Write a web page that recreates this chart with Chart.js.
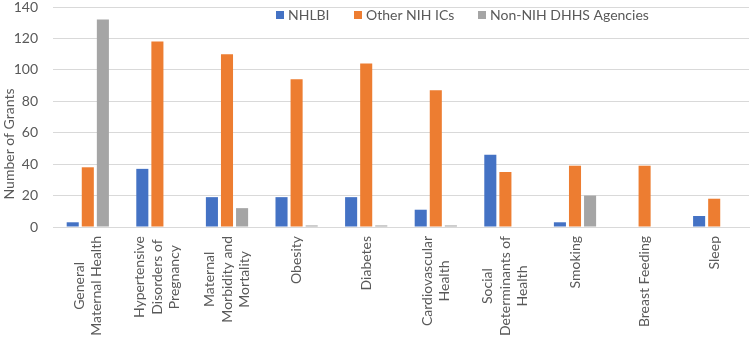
<!DOCTYPE html>
<html>
<head>
<meta charset="utf-8">
<script src="https://cdn.jsdelivr.net/npm/chart.js@4"></script>
<style>
  html, body { margin: 0; padding: 0; background: #fff; }
</style>
</head>
<body>
<canvas id="grantsChart" width="752" height="337"></canvas>
<script>
// === Data ===
const categories = [
  ['General', 'Maternal Health'],
  ['Hypertensive', 'Disorders of', 'Pregnancy'],
  ['Maternal', 'Morbidity and', 'Mortality'],
  ['Obesity'],
  ['Diabetes'],
  ['Cardiovascular', 'Health'],
  ['Social', 'Determinants of', 'Health'],
  ['Smoking'],
  ['Breast Feeding'],
  ['Sleep']
];
const nhlbi    = [3, 37, 19, 19, 19, 11, 46, 3, 0, 7];
const otherNih = [38, 118, 110, 94, 104, 87, 35, 39, 39, 18];
const nonNih   = [132, 0, 12, 1, 1, 1, 0, 20, 0, 0];
const seriesNames = ['NHLBI', 'Other NIH ICs', 'Non-NIH DHHS Agencies'];
const yMax = 140;
const yStep = 20;
const yTitle = 'Number of Grants';

const colors = ['#4472C4', '#ED7D31', '#A5A5A5'];
const textColor = '#595959';
const gridColor = '#D9D9D9';
const fontFamily = 'Lato, "Liberation Sans", sans-serif';

// === Excel-style text: wrapped category labels, axis title, legend ===
const excelText = {
  id: 'excelText',
  afterDraw(chart) {
    const { ctx, chartArea } = chart;
    const x = chart.scales.x;
    ctx.save();
    ctx.fillStyle = textColor;
    ctx.font = '14px ' + fontFamily;
    ctx.textAlign = 'center';
    ctx.textBaseline = 'middle';

    // category labels rotated, lines centred on each other
    categories.forEach((lines, i) => {
      const cx = x.getPixelForTick(i);
      const longest = Math.max(...lines.map(l => ctx.measureText(l).width));
      const cy = chartArea.bottom + 9 + longest / 2;
      lines.forEach((line, j) => {
        ctx.save();
        ctx.translate(cx + (j - (lines.length - 1) / 2) * 17.5, cy);
        ctx.rotate(-Math.PI / 2);
        ctx.fillText(line, 0, 0);
        ctx.restore();
      });
    });

    // y axis title
    ctx.save();
    ctx.translate(9, 144);
    ctx.rotate(-Math.PI / 2);
    ctx.fillText(yTitle, 0, 0);
    ctx.restore();

    // legend inside the plot
    const boxX = [276, 354, 478];
    ctx.textAlign = 'left';
    seriesNames.forEach((name, i) => {
      ctx.fillStyle = colors[i];
      ctx.fillRect(boxX[i], 11, 8, 8);
      ctx.fillStyle = textColor;
      ctx.fillText(name, boxX[i] + 12, 15.5);
    });
    ctx.restore();
  }
};

const ctx = document.getElementById('grantsChart').getContext('2d');
new Chart(ctx, {
  type: 'bar',
  data: {
    labels: categories,
    datasets: [
      { label: seriesNames[0], data: nhlbi, backgroundColor: colors[0] },
      { label: seriesNames[1], data: otherNih, backgroundColor: colors[1] },
      { label: seriesNames[2], data: nonNih, backgroundColor: colors[2] }
    ]
  },
  options: {
    responsive: false,
    animation: false,
    devicePixelRatio: 1,
    layout: { padding: { top: 7, right: 3, bottom: 110, left: 0 } },
    datasets: { bar: { barPercentage: 0.8, categoryPercentage: 0.65 } },
    plugins: { legend: { display: false }, tooltip: { enabled: false } },
    scales: {
      x: {
        afterFit: s => { s.height = 0; s.paddingLeft = 0; s.paddingRight = 0; },
        grid: { display: false },
        border: { color: gridColor },
        ticks: { display: false }
      },
      y: {
        min: 0,
        max: yMax,
        afterFit: s => { s.width = 53; s.paddingTop = 0; s.paddingBottom = 0; },
        ticks: {
          stepSize: yStep,
          padding: 15,
          color: textColor,
          font: { family: fontFamily, size: 14 }
        },
        grid: { color: gridColor, drawTicks: false },
        border: { display: false }
      }
    }
  },
  plugins: [excelText]
});
</script>
</body>
</html>
